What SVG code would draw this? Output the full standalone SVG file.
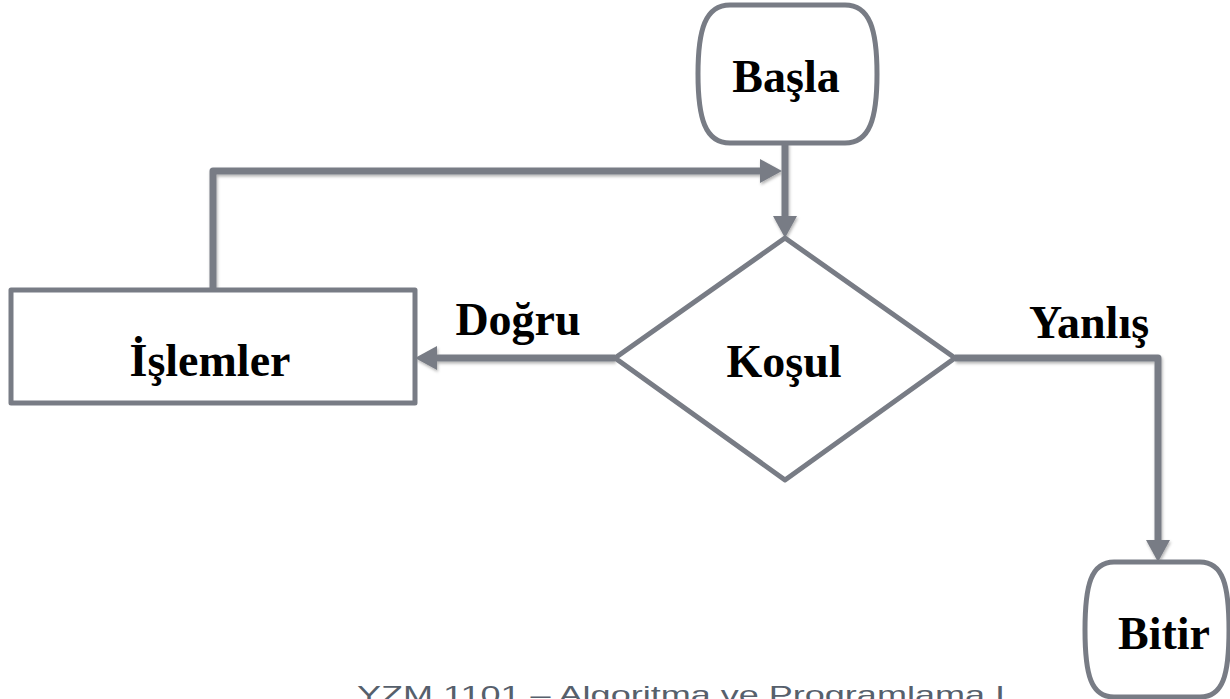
<svg xmlns="http://www.w3.org/2000/svg" width="1230" height="699" viewBox="0 0 1230 699">
  <style>
    .shape { fill: #ffffff; stroke: #787c85; stroke-width: 5; stroke-linejoin: round; }
    .wire { fill: none; stroke: #787c85; stroke-width: 7; stroke-linejoin: round; }
    .label { font-family: "Liberation Serif", "Times New Roman", serif; font-weight: bold; font-size: 46px; fill: #000000; text-anchor: middle; }
    .footer { font-family: "Liberation Sans", Arial, sans-serif; font-size: 24px; fill: #56606c; }
  </style>
  <defs>
    <!-- user-space region so straight (zero-width) paths still render -->
    <filter id="shadow" filterUnits="userSpaceOnUse" x="0" y="0" width="1230" height="699">
      <feDropShadow dx="1" dy="2" stdDeviation="1.5" flood-color="#000000" flood-opacity="0.3"/>
    </filter>
    <marker id="arrow" markerUnits="userSpaceOnUse" markerWidth="24" markerHeight="24" refX="12" refY="12" orient="auto">
      <path d="M0,0 L22,12 L0,24 Z" fill="#787c85"/>
    </marker>
  </defs>

  <rect width="1230" height="699" fill="#ffffff"/>

  <!-- connectors -->
  <g id="connectors" filter="url(#shadow)">
    <path class="wire" d="M785,143 V228" marker-end="url(#arrow)"/>
    <path class="wire" d="M213,290 V171 H772" marker-end="url(#arrow)"/>
    <path class="wire" d="M615,358 H425" marker-end="url(#arrow)"/>
    <path class="wire" d="M955,358 H1158 V552" marker-end="url(#arrow)"/>
  </g>

  <!-- start terminal -->
  <g id="basla">
    <path class="shape" d="M730,5 H845 C870,5 877,30 877,74 C877,118 870,143 845,143 H730 C705,143 698,118 698,74 C698,30 705,5 730,5 Z"/>
    <text class="label" x="786" y="92">Başla</text>
  </g>

  <!-- process box -->
  <g id="islemler">
    <rect class="shape" x="11" y="290" width="404" height="113"/>
    <text class="label" x="210" y="376">İşlemler</text>
  </g>

  <!-- decision -->
  <g id="kosul">
    <polygon class="shape" points="785,238 955,358 785,480 615,358"/>
    <text class="label" x="784" y="377">Koşul</text>
  </g>

  <!-- end terminal -->
  <g id="bitir">
    <path class="shape" d="M1114,562 H1200 C1223,562 1229,585 1229,630 C1229,675 1223,697 1200,697 H1114 C1091,697 1085,675 1085,630 C1085,585 1091,562 1114,562 Z"/>
    <text class="label" x="1164" y="649">Bitir</text>
  </g>

  <!-- branch labels -->
  <g id="branch-labels">
    <text class="label" x="518" y="335">Doğru</text>
    <text class="label" x="1089" y="338">Yanlış</text>
  </g>

  <text class="footer" x="357" y="703" textLength="648" lengthAdjust="spacingAndGlyphs">YZM 1101 – Algoritma ve Programlama I</text>
</svg>
